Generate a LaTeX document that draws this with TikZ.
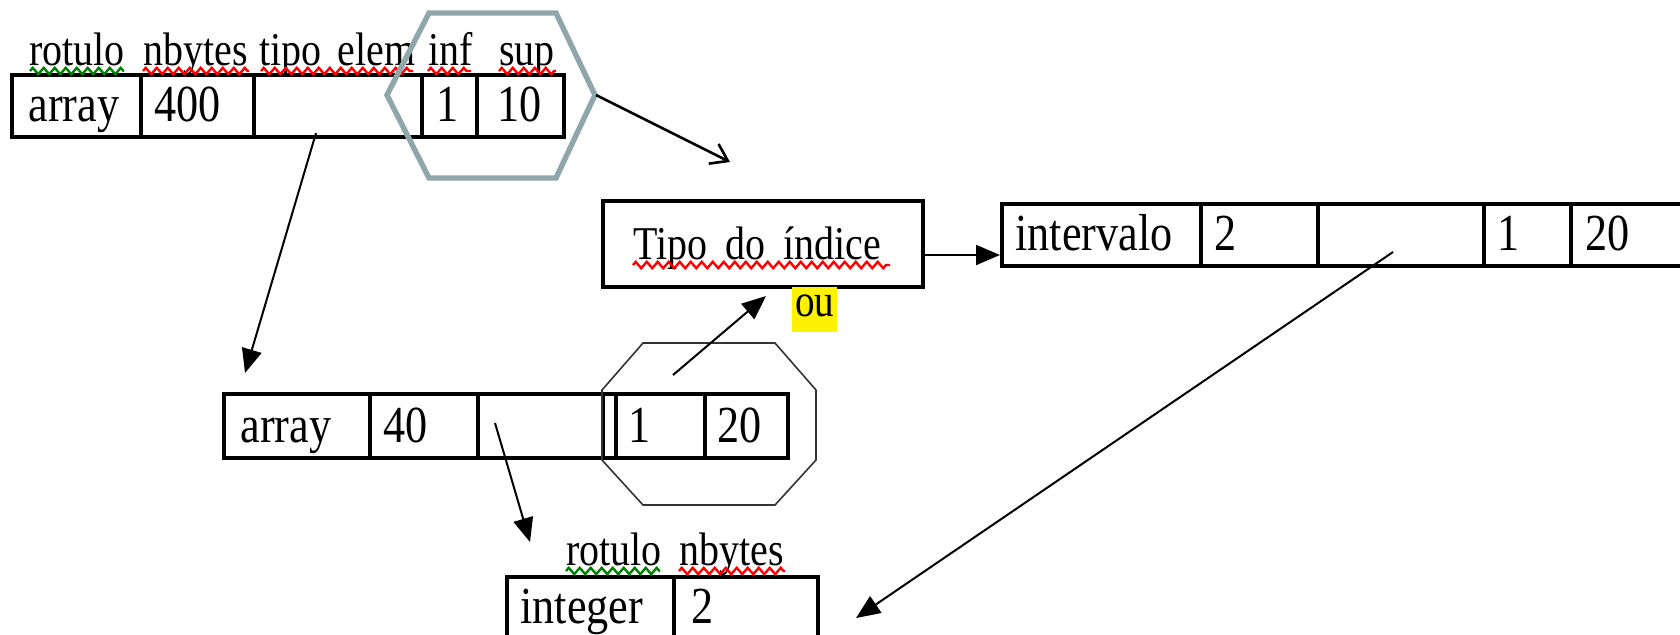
\documentclass[tikz,border=0pt]{standalone}
\usepackage{fontspec}
\setmainfont{Liberation Serif}
\newfontfamily\cellfam[FakeStretch=0.85]{Liberation Serif}
\usetikzlibrary{arrows.meta,decorations.pathmorphing,fit}
\newcommand\cellFnt{\cellfam\fontsize{26pt}{30pt}\selectfont}
\newcommand\hdrFnt{\cellfam\fontsize{23.5pt}{27pt}\selectfont}
\newcommand\tipoFnt{\cellfam\fontsize{23.5pt}{27pt}\selectfont}
\newcommand\ouFnt{\cellfam\fontsize{23pt}{27pt}\selectfont}
\definecolor{hexgray}{RGB}{143,166,170}
\definecolor{squiggreen}{RGB}{0,128,0}
\definecolor{squigred}{RGB}{255,0,0}
\begin{document}
\begin{tikzpicture}[x=0.5pt,y=-0.5pt,
  cellbox/.style={draw, line width=1.6pt, inner sep=0pt},
  celltxt/.style={font=\cellFnt, anchor=base west, inner sep=0pt},
  hdrtxt/.style={font=\hdrFnt, anchor=base west, inner sep=0pt},
  arr/.style={line width=1pt, -{Triangle[length=12pt,width=10pt]}},
  openarr/.style={line width=1.3pt, -{Straight Barb[length=8pt,width=11pt,line width=1.3pt]}},
  squig/.style={draw=#1, line width=1.2pt, decorate, decoration={zigzag, amplitude=1.6pt, segment length=5.5pt}},
  hexline/.style={draw=hexgray, line width=2.7pt, line join=miter},
  octline/.style={draw=black!80, line width=0.8pt}
]
\useasboundingbox (0,0) rectangle (1680,634);
\clip (0,0) rectangle (1680,634);

% ---------- top table ----------
\node[cellbox, fit={(12,75) (141,137)}] (t1a) {};
\node[cellbox, fit={(141,75) (254,137)}] (t1b) {};
\node[cellbox, fit={(254,75) (422,137)}] (t1c) {};
\node[cellbox, fit={(422,75) (477,137)}] (t1d) {};
\node[cellbox, fit={(477,75) (564,137)}] (t1e) {};
\node[celltxt] (t1atx) at (28,121) {array};
\node[celltxt] (t1btx) at (154,121) {400};
\node[celltxt] (t1dtx) at (436,121) {1};
\node[celltxt] (t1etx) at (497,121) {10};

\node[hdrtxt] (h1) at (29,65) {rotulo};
\node[hdrtxt] (h2) at (143,65) {nbytes};
\node[hdrtxt] (h3) at (259,65) {tipo\hspace{8pt}elem};
\node[hdrtxt] (h4) at (428,65) {inf};
\node[hdrtxt] (h5) at (499,65) {sup};
\draw[squig=squiggreen] (30,71) -- (124,71);
\draw[squig=squigred] (143,71) -- (249,71);
\draw[squig=squigred] (261,71) -- (413,71);
\draw[squig=squigred] (428,71) -- (471,71);
\draw[squig=squigred] (499,71) -- (556,71);

% hexagon
\draw[hexline] (387,95) -- (429,13) -- (556,13) -- (595,95) -- (556,178) -- (429,178) -- cycle;
\coordinate (hexR) at (596,95);

% ---------- Tipo do indice ----------
\node[cellbox, fit={(603,201) (923,287)}] (tipo) {};
\node[font=\tipoFnt, anchor=base west, inner sep=0pt] (tipotx) at (633,259) {Tipo\hspace{9pt}do\hspace{9pt}índice};
\draw[squig=squigred] (633,265) -- (890,265);

% ou
\node[fill=yellow, inner sep=0pt, fit={(792,287) (837,332)}] (oubox) {};
\node[font=\ouFnt, anchor=base west, inner sep=0pt] (ou) at (795,316) {ou};

% ---------- intervalo table ----------
\node[cellbox, fit={(1002,204) (1201,266)}] (t3a) {};
\node[cellbox, fit={(1201,204) (1318,266)}] (t3b) {};
\node[cellbox, fit={(1318,204) (1484,266)}] (t3c) {};
\node[cellbox, fit={(1484,204) (1571,266)}] (t3d) {};
\node[cellbox, fit={(1571,204) (1720,266)}] (t3e) {};
\node[celltxt] (t3atx) at (1015,250) {intervalo};
\node[celltxt] (t3btx) at (1214,250) {2};
\node[celltxt] (t3dtx) at (1497,250) {1};
\node[celltxt] (t3etx) at (1585,250) {20};

% ---------- second table ----------
\node[cellbox, fit={(224,394) (370,458)}] (t2a) {};
\node[cellbox, fit={(370,394) (478,458)}] (t2b) {};
\node[cellbox, fit={(478,394) (603,458)}] (t2c) {};
\node[cellbox, fit={(603,394) (616,458)}] (t2d) {};
\node[cellbox, fit={(616,394) (705,458)}] (t2e) {};
\node[cellbox, fit={(705,394) (788,458)}] (t2f) {};
\node[celltxt] (t2atx) at (240,442) {array};
\node[celltxt] (t2btx) at (383,442) {40};
\node[celltxt] (t2etx) at (628,442) {1};
\node[celltxt] (t2ftx) at (717,442) {20};

% octagon
\draw[octline] (643,343) -- (775,343) -- (816,390) -- (816,460) -- (775,505) -- (643,505) -- (602,460) -- (602,390) -- cycle;

% ---------- integer table ----------
\node[cellbox, fit={(507,577) (674,690)}] (t4a) {};
\node[cellbox, fit={(674,577) (818,690)}] (t4b) {};
\node[celltxt] (t4atx) at (520,623) {integer};
\node[celltxt] (t4btx) at (691,623) {2};
\node[hdrtxt] (h6) at (566,565) {rotulo};
\node[hdrtxt] (h7) at (679,565) {nbytes};
\draw[squig=squiggreen] (566,571) -- (660,571);
\draw[squig=squigred] (679,571) -- (785,571);

% ---------- connectors ----------
\coordinate (a1s) at (316,133);
\coordinate (a1e) at (245,373);
\coordinate (a2s) at (495,423);
\coordinate (a2e) at (530,542);
\coordinate (a3s) at (673,375);
\coordinate (a3e) at (766,296);
\coordinate (a4s) at (1393,252);
\coordinate (a4e) at (856,618);
\coordinate (a5e) at (730,162);
\coordinate (a6s) at (923,255);
\coordinate (a6e) at (1000,255);
\draw[arr] (a1s) -- (a1e);
\draw[arr] (a2s) -- (a2e);
\draw[arr] (a3s) -- (a3e);
\draw[arr] (a4s) -- (a4e);
\draw[openarr] (hexR) -- (a5e);
\draw[arr] (a6s) -- (a6e);
\end{tikzpicture}
\end{document}
